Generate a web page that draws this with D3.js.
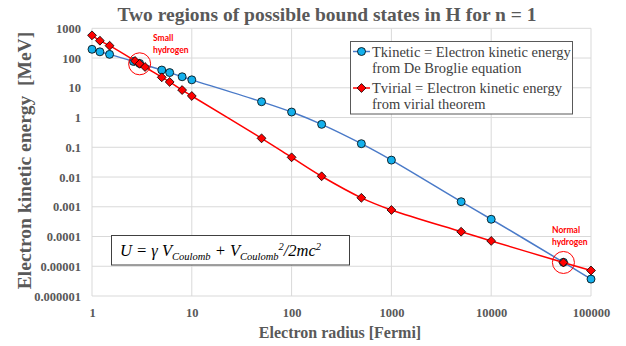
<!DOCTYPE html>
<html>
<head>
<meta charset="utf-8">
<script src="https://cdn.jsdelivr.net/npm/d3@7"></script>
<style>
  html, body { margin: 0; padding: 0; background: #fff; }
  svg { display: block; }
</style>
</head>
<body>
<svg id="chart" width="626" height="346"></svg>
<script>
// Electron radius in fermi for each series
const radiusKinetic = [1, 1.2, 1.5, 2.6, 3, 5, 6, 8, 10, 50, 100, 200, 500, 1000, 5000, 10000, 52918, 100000];
const radiusVirial  = [1, 1.2, 1.5, 2.7, 3, 3.4, 5, 6, 8, 10, 50, 100, 200, 500, 1000, 5000, 10000, 52918, 100000];

// Kinetic energy in MeV
const tKinetic = [197, 162, 133, 77, 66, 39.5, 32.5, 23.5, 18.5, 3.4, 1.53, 0.59, 0.132, 0.037, 0.00148, 0.00038, 0.0000136, 0.0000037];
const tVirial  = [580, 383, 260, 80, 64, 50, 22.5, 15.7, 8.4, 5.3, 0.2, 0.046, 0.0106, 0.002, 0.00078, 0.000145, 0.000071, 0.0000134, 0.0000072];

// Axis tick values and their labels
const xTicks = [1, 10, 100, 1000, 10000, 100000];
const xTickLabels = ["1", "10", "100", "1000", "10000", "100000"];
const yTicks = [1000, 100, 10, 1, 0.1, 0.01, 0.001, 0.0001, 0.00001, 0.000001];
const yTickLabels = ["1000", "100", "10", "1", "0.1", "0.01", "0.001", "0.0001", "0.00001", "0.000001"];

// Highlighted states: [radius, energy]
const smallHydrogen = [3, 64];
const normalHydrogen = [52918, 0.0000134];

const svg = d3.select("#chart");
const serif = "'Liberation Serif', 'Times New Roman', serif";
const gray = "#595959";

const x = d3.scaleLog().domain([1, 100000]).range([92, 591]);
const y = d3.scaleLog().domain([0.000001, 1000]).range([296, 28.3]);

// Grid
const grid = svg.append("g");
grid.selectAll("line.v").data(xTicks).join("line")
  .attr("x1", d => x(d)).attr("x2", d => x(d))
  .attr("y1", y(1000)).attr("y2", y(0.000001))
  .attr("stroke", "#d9d9d9").attr("stroke-width", 1);
grid.selectAll("line.h").data(yTicks).join("line")
  .attr("x1", x(1)).attr("x2", x(100000))
  .attr("y1", d => y(d)).attr("y2", d => y(d))
  .attr("stroke", "#d9d9d9").attr("stroke-width", 1);

// Axes (labels only, lines come from the grid)
const xAxis = d3.axisBottom(x).tickValues(xTicks)
  .tickFormat((d, i) => xTickLabels[i]).tickSize(0).tickPadding(12);
svg.append("g").attr("transform", `translate(0,${y(0.000001)})`).call(xAxis)
  .call(g => g.select(".domain").remove())
  .selectAll("text")
  .attr("font-family", serif).attr("font-weight", "bold")
  .attr("font-size", 12.5).attr("fill", gray);

const yAxis = d3.axisLeft(y).tickValues(yTicks)
  .tickFormat((d, i) => yTickLabels[i]).tickSize(0).tickPadding(11);
svg.append("g").attr("transform", `translate(${x(1)},0)`).call(yAxis)
  .call(g => g.select(".domain").remove())
  .selectAll("text")
  .attr("font-family", serif).attr("font-weight", "bold")
  .attr("font-size", 12.5).attr("fill", gray);

// Titles
svg.append("text")
  .attr("x", 327).attr("y", 21)
  .attr("text-anchor", "middle")
  .attr("font-family", serif).attr("font-weight", "bold")
  .attr("font-size", 19.5).attr("fill", gray)
  .text("Two regions of possible bound states in H for n = 1");

svg.append("text")
  .attr("x", 340).attr("y", 338)
  .attr("text-anchor", "middle")
  .attr("font-family", serif).attr("font-weight", "bold")
  .attr("font-size", 16).attr("fill", gray)
  .text("Electron radius [Fermi]");

svg.append("text")
  .attr("transform", "translate(31,160.5) rotate(-90)")
  .attr("text-anchor", "middle")
  .attr("font-family", serif).attr("font-weight", "bold")
  .attr("font-size", 19.5).attr("fill", gray)
  .attr("xml:space", "preserve")
  .text("Electron kinetic energy  [MeV]");

// Series
const blueLine = "#4a7ac8", blueFill = "#14b0ec", red = "#ff0000";
const kineticPts = radiusKinetic.map((r, i) => [r, tKinetic[i]]);
const virialPts = radiusVirial.map((r, i) => [r, tVirial[i]]);
const line = d3.line().x(d => x(d[0])).y(d => y(d[1])).curve(d3.curveCatmullRom.alpha(0.5));

svg.append("path").datum(kineticPts)
  .attr("d", line).attr("fill", "none")
  .attr("stroke", blueLine).attr("stroke-width", 1.5);
svg.append("g").selectAll("circle").data(kineticPts).join("circle")
  .attr("cx", d => x(d[0])).attr("cy", d => y(d[1])).attr("r", 4)
  .attr("fill", blueFill).attr("stroke", "#000").attr("stroke-width", 0.8);

svg.append("path").datum(virialPts)
  .attr("d", line).attr("fill", "none")
  .attr("stroke", red).attr("stroke-width", 1.5);
const diamond = d3.symbol().type(d3.symbolDiamond2).size(50);
svg.append("g").selectAll("path").data(virialPts).join("path")
  .attr("transform", d => `translate(${x(d[0])},${y(d[1])})`)
  .attr("d", diamond)
  .attr("fill", red).attr("stroke", "#000").attr("stroke-width", 0.8);

// Highlight circles and notes
[smallHydrogen, normalHydrogen].forEach(p => {
  svg.append("circle")
    .attr("cx", x(p[0])).attr("cy", y(p[1])).attr("r", 11)
    .attr("fill", "none").attr("stroke", red).attr("stroke-width", 1);
});
const noteFont = "Lato, 'Open Sans', sans-serif";
function note(lines, x0, y0) {
  const t = svg.append("text").attr("font-family", noteFont).attr("font-weight", "bold")
    .attr("font-size", 8.5).attr("fill", red);
  lines.forEach((s, i) => t.append("tspan").attr("x", x0).attr("y", y0 + i * 11.5).text(s));
}
note(["Small", "hydrogen"], 153, 41);
note(["Normal", "hydrogen"], 552, 233);

// Legend
const legend = svg.append("g");
legend.append("rect").attr("x", 350.5).attr("y", 41.5).attr("width", 222).attr("height", 72.5)
  .attr("fill", "#fff").attr("stroke", "#595959").attr("stroke-width", 1);
const legendItems = [
  { lines: ["Tkinetic = Electron kinetic energy", "from De Broglie equation"], color: blueLine, kind: "circle" },
  { lines: ["Tvirial = Electron kinetic energy", "from virial theorem"], color: red, kind: "diamond" }
];
legendItems.forEach((it, i) => {
  const cy = 51.5 + i * 36.5;
  legend.append("line").attr("x1", 353).attr("x2", 370).attr("y1", cy).attr("y2", cy)
    .attr("stroke", it.color).attr("stroke-width", 1.5);
  if (it.kind === "circle") {
    legend.append("circle").attr("cx", 361.5).attr("cy", cy).attr("r", 4)
      .attr("fill", blueFill).attr("stroke", "#000").attr("stroke-width", 0.8);
  } else {
    legend.append("path").attr("transform", `translate(361.5,${cy})`).attr("d", diamond)
      .attr("fill", red).attr("stroke", "#000").attr("stroke-width", 0.8);
  }
  const t = legend.append("text").attr("font-family", serif).attr("font-size", 14.5).attr("fill", "#404040");
  it.lines.forEach((s, j) => t.append("tspan").attr("x", 372).attr("y", cy + 5 + j * 16).text(s));
});

// Formula box
svg.append("rect").attr("x", 111.5).attr("y", 235.5).attr("width", 238).attr("height", 29.5)
  .attr("fill", "#fff").attr("stroke", "#404040").attr("stroke-width", 1);
const f = svg.append("text").attr("x", 120).attr("y", 256)
  .attr("font-family", serif).attr("font-style", "italic").attr("font-size", 16.5).attr("fill", "#000");
f.append("tspan").text("U = \u03B3 V");
f.append("tspan").attr("font-size", 10.5).attr("dy", 4).text("Coulomb");
f.append("tspan").attr("dy", -4).text(" + V");
f.append("tspan").attr("font-size", 10.5).attr("dy", 4).text("Coulomb");
f.append("tspan").attr("font-size", 10.5).attr("dy", -10).text("2");
f.append("tspan").attr("dy", 6).text("/2mc");
f.append("tspan").attr("font-size", 10.5).attr("dy", -6).text("2");
</script>
</body>
</html>
